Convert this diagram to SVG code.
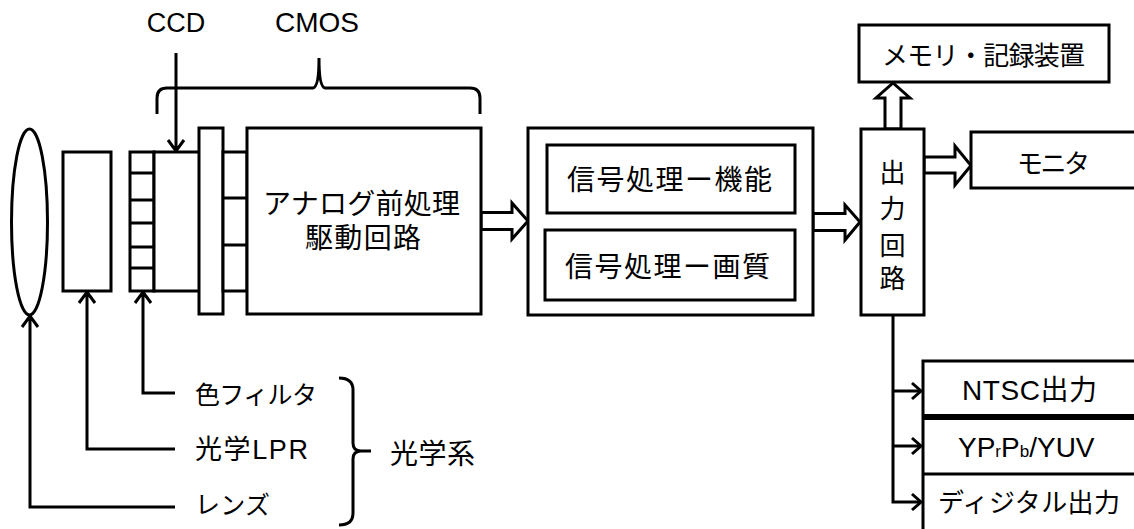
<svg xmlns="http://www.w3.org/2000/svg" width="1134" height="529" viewBox="0 0 1134 529">
<style>
.b{fill:#fff;stroke:#000;stroke-width:3}
.l{fill:none;stroke:#000;stroke-width:3}
.h{fill:#fff;stroke:#000;stroke-width:3;stroke-linejoin:miter}
text{font-family:"Liberation Sans","Noto Sans CJK JP",sans-serif;fill:#000}
</style>
<rect width="1134" height="529" fill="#fff"/>
<g id="connectors">
<path class="l" d="M176,53 L176,150 M168,140 L176,151 L184,140"/>
<path class="l" d="M157,114 L157,98 Q157,88 167,88 L313,88 Q319,87 319,58 Q319,87 325,88 L470,88 Q480,88 480,98 L480,114"/>
<path class="l" d="M175,507 L30,507 L30,317 M22,327 L30,316 L38,327"/>
<path class="l" d="M175,449 L87,449 L87,293 M79,303 L87,292 L95,303"/>
<path class="l" d="M175,393 L143,393 L143,293 M135,303 L143,292 L151,303"/>
<path class="l" d="M339,378 Q353,378 353,390 L353,443 Q353,451 361,451 L371,451 M361,451 Q353,451 353,459 L353,513 Q353,525 339,525"/>
<polygon class="h" points="481,212.5 512,212.5 512,203 528,221 512,239 512,229.5 481,229.5"/>
<polygon class="h" points="813,213.5 845,213.5 845,205 860,222 845,240 845,230.5 813,230.5"/>
<polygon class="h" points="885,129 885,98 876,98 893,83 910,98 901,98 901,129"/>
<polygon class="h" points="924,157 955,157 955,146 971,165.5 955,185 955,173 924,173"/>
<path class="l" d="M893,316 L893,502 L920,502 M893,391 L920,391 M893,446 L920,446"/>
<path class="l" d="M912,383 L921,391 L912,399 M912,438 L921,446 L912,454 M912,494 L921,502 L912,510"/>
</g>
<g id="labels">
<text x="176" y="32" font-size="27" text-anchor="middle">CCD</text>
<text x="317" y="32" font-size="28" text-anchor="middle">CMOS</text>
<text x="195" y="404" font-size="25" textLength="122">色フィルタ</text>
<text x="195" y="459" font-size="27" textLength="113">光学LPR</text>
<text x="195" y="514" font-size="25" textLength="75">レンズ</text>
<text x="390" y="464" font-size="28" textLength="85">光学系</text>
</g>
<g id="lens"><ellipse class="b" cx="29.5" cy="222" rx="18" ry="93"/></g>
<g id="lpr"><rect class="b" x="63" y="152" width="48" height="139"/></g>
<g id="sensor">
<rect class="b" x="130" y="152" width="24" height="139"/>
<path class="l" d="M130,173 H154 M130,200 H154 M130,223 H154 M130,247 H154 M130,268 H154"/>
<rect class="b" x="154" y="152" width="46" height="139"/>
<rect class="b" x="199" y="128" width="24" height="186"/>
<rect class="b" x="223" y="152" width="24" height="139"/>
<path class="l" d="M223,198 H247 M223,245 H247"/>
</g>
<g id="analog">
<rect class="b" x="247" y="128" width="234" height="186"/>
<text x="263" y="214" font-size="28" textLength="197">アナログ前処理</text>
<text x="305" y="248" font-size="28" textLength="116">駆動回路</text>
</g>
<g id="signal">
<rect class="b" x="528" y="128" width="285" height="187"/>
<rect class="b" x="547" y="145" width="248" height="68"/>
<rect class="b" x="545" y="230" width="250" height="70"/>
<text x="567" y="190" font-size="28" textLength="205">信号処理ー機能</text>
<text x="565" y="277" font-size="28" textLength="205">信号処理ー画質</text>
</g>
<g id="output">
<rect class="b" x="861" y="129" width="63" height="186"/>
<text x="892.5" y="181.5" font-size="26" text-anchor="middle">出</text>
<text x="892.5" y="217.5" font-size="26" text-anchor="middle">力</text>
<text x="892.5" y="254.5" font-size="26" text-anchor="middle">回</text>
<text x="892.5" y="287.5" font-size="26" text-anchor="middle">路</text>
</g>
<g id="memory">
<rect class="b" x="859" y="25" width="250" height="57"/>
<text x="882" y="64.5" font-size="26" textLength="203">メモリ・記録装置</text>
</g>
<g id="monitor">
<rect class="b" x="971" y="132" width="180" height="56"/>
<text x="1017" y="172.5" font-size="26" textLength="73">モニタ</text>
</g>
<g id="outputs">
<rect class="b" x="923" y="361" width="230" height="180"/>
<path d="M923,417 H1140" stroke="#000" stroke-width="6"/>
<path class="l" d="M923,474 H1140"/>
<text x="962" y="400" font-size="28" textLength="135">NTSC出力</text>
<text x="958" y="457" font-size="28">YP<tspan font-size="17">r</tspan>P<tspan font-size="17">b</tspan>/YUV</text>
<text x="938" y="511.5" font-size="26" textLength="182">ディジタル出力</text>
</g>
</svg>
